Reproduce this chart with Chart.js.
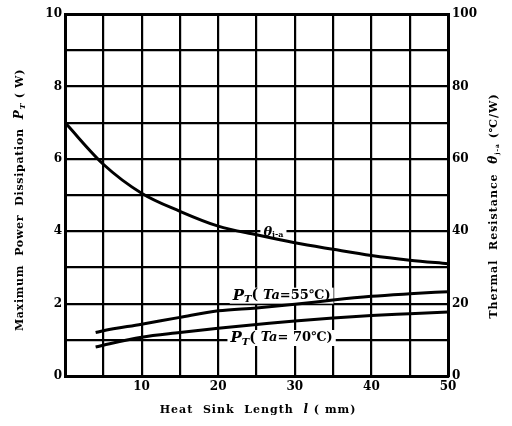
<!DOCTYPE html>
<html>
<head>
<meta charset="utf-8">
<script src="https://cdn.jsdelivr.net/npm/chart.js@4.4.0/dist/chart.umd.min.js"></script>
<style>
  html, body { margin: 0; padding: 0; background: #fff; }
  #wrap { width: 512px; height: 426px; }
</style>
</head>
<body>
<div id="wrap"><canvas id="chart" width="512" height="426"></canvas></div>
<script>
// heat sink length (mm) and the three curves
const lengthTheta = [0, 5, 10, 15, 20, 25, 30, 35, 40, 45, 50];
const thetaJA = [70, 58.5, 50.5, 45.5, 41.4, 39, 36.8, 35, 33.3, 32, 31]; // °C/W, right axis
const lengthPt = [4, 5, 10, 15, 20, 25, 30, 35, 40, 45, 50];
const pt55 = [1.2, 1.25, 1.43, 1.62, 1.8, 1.88, 1.98, 2.1, 2.2, 2.27, 2.33]; // W
const pt70 = [0.8, 0.85, 1.07, 1.2, 1.32, 1.42, 1.52, 1.6, 1.67, 1.72, 1.77]; // W

const xTicks = [10, 20, 30, 40, 50];
const leftTicks = [0, 2, 4, 6, 8, 10];
const rightTicks = [0, 20, 40, 60, 80, 100];

const serif = '"DejaVu Serif", "Liberation Serif", serif';

function pairs(xs, ys) {
  return xs.map((x, i) => ({ x: x, y: ys[i] }));
}

// draw a run of text pieces with different fonts (italic P, subscripts ...)
function segWidth(ctx, segs) {
  let w = 0;
  segs.forEach(s => { ctx.font = s.font; w += ctx.measureText(s.text).width; });
  return w;
}
function drawSegs(ctx, segs, x, y) {
  segs.forEach(s => {
    ctx.font = s.font;
    ctx.fillText(s.text, x, y + (s.dy || 0));
    x += ctx.measureText(s.text).width;
  });
}

const curveLabels = [
  { x: 25.9, y: 3.97, segs: [
    { text: "θ", font: "italic bold 13px " + serif },
    { text: "j-a", font: "bold 8px " + serif, dy: 3 }
  ]},
  { x: 21.9, y: 2.22, segs: [
    { text: "P", font: "italic bold 15px " + serif },
    { text: "T", font: "italic bold 10px " + serif, dy: 4 },
    { text: "( ", font: "bold 14px " + serif },
    { text: "Ta", font: "italic bold 13px " + serif },
    { text: "=55℃)", font: "bold 13px " + serif }
  ]},
  { x: 21.6, y: 1.05, segs: [
    { text: "P", font: "italic bold 15px " + serif },
    { text: "T", font: "italic bold 10px " + serif, dy: 4 },
    { text: "( ", font: "bold 14px " + serif },
    { text: "Ta", font: "italic bold 13px " + serif },
    { text: "= 70℃)", font: "bold 13px " + serif }
  ]}
];

const labelPlugin = {
  id: "curveLabels",
  beforeDatasetsDraw(chart) {
    const ctx = chart.ctx;
    const sx = chart.scales.x, sy = chart.scales.y;
    ctx.save();
    ctx.fillStyle = "#fff";
    curveLabels.forEach(l => {
      const px = sx.getPixelForValue(l.x), py = sy.getPixelForValue(l.y);
      const w = segWidth(ctx, l.segs);
      ctx.fillRect(px - 3, py - 8, w + 6, 16);
    });
    ctx.restore();
  },
  afterDatasetsDraw(chart) {
    const ctx = chart.ctx;
    const sx = chart.scales.x, sy = chart.scales.y;
    ctx.save();
    ctx.fillStyle = "#000";
    ctx.textBaseline = "middle";
    curveLabels.forEach(l => {
      drawSegs(ctx, l.segs, sx.getPixelForValue(l.x), sy.getPixelForValue(l.y));
    });
    ctx.restore();
  }
};

const titlePlugin = {
  id: "axisTitles",
  afterDraw(chart) {
    const ctx = chart.ctx;
    const f = "bold 11px " + serif;
    const fi = "italic bold 12px " + serif;
    const fs = "italic bold 8px " + serif;
    ctx.save();
    ctx.fillStyle = "#000";
    ctx.textBaseline = "middle";
    ctx.letterSpacing = "0.7px";

    const left = [
      { text: "Maximum  Power  Dissipation  ", font: f },
      { text: "P", font: fi },
      { text: "T", font: fs, dy: 3 },
      { text: " ( W)", font: f }
    ];
    ctx.save();
    ctx.translate(20, 200);
    ctx.rotate(-Math.PI / 2);
    drawSegs(ctx, left, -segWidth(ctx, left) / 2, 0);
    ctx.restore();

    ctx.letterSpacing = "1px";
    const right = [
      { text: "Thermal  Resistance  ", font: f },
      { text: "θ", font: fi },
      { text: "j-a", font: "bold 6px " + serif, dy: 3 },
      { text: " (℃/W)", font: f }
    ];
    ctx.save();
    ctx.translate(494, 206);
    ctx.rotate(-Math.PI / 2);
    drawSegs(ctx, right, -segWidth(ctx, right) / 2, 0);
    ctx.restore();

    const bottom = [
      { text: "Heat  Sink  Length  ", font: f },
      { text: "l", font: fi },
      { text: " ( mm)", font: f }
    ];
    drawSegs(ctx, bottom, 258 - segWidth(ctx, bottom) / 2, 410);
    ctx.restore();
  }
};

const tickFont = { family: serif, size: 12, weight: "bold" };

new Chart(document.getElementById("chart"), {
  type: "line",
  data: {
    datasets: [
      {
        label: "θj-a",
        data: pairs(lengthTheta, thetaJA),
        yAxisID: "y2",
        borderColor: "#000",
        borderWidth: 3,
        pointRadius: 0,
        cubicInterpolationMode: "monotone",
        fill: false
      },
      {
        label: "PT (Ta=55°C)",
        data: pairs(lengthPt, pt55),
        yAxisID: "y",
        borderColor: "#000",
        borderWidth: 3,
        pointRadius: 0,
        cubicInterpolationMode: "monotone",
        fill: false
      },
      {
        label: "PT (Ta=70°C)",
        data: pairs(lengthPt, pt70),
        yAxisID: "y",
        borderColor: "#000",
        borderWidth: 3,
        pointRadius: 0,
        cubicInterpolationMode: "monotone",
        fill: false
      }
    ]
  },
  options: {
    responsive: false,
    animation: false,
    devicePixelRatio: 1,
    layout: { padding: { top: 14, left: 0, right: 0, bottom: 0 } },
    plugins: {
      legend: { display: false },
      tooltip: { enabled: false }
    },
    scales: {
      x: {
        type: "linear",
        min: 0,
        max: 50,
        afterFit: s => { s.height = 50; },
        ticks: {
          stepSize: 5,
          color: "#000",
          font: tickFont,
          padding: 4,
          maxRotation: 0,
          autoSkip: false,
          callback: v => (xTicks.includes(v) ? String(v) : "")
        },
        grid: { color: "#000", lineWidth: 2.2, drawTicks: false },
        border: { color: "#000", width: 3 }
      },
      y: {
        position: "left",
        min: 0,
        max: 10,
        afterFit: s => { s.width = 65; },
        ticks: {
          stepSize: 1,
          color: "#000",
          font: tickFont,
          padding: 3,
          autoSkip: false,
          callback: v => (leftTicks.includes(v) ? String(v) : "")
        },
        grid: {
          color: "#000",
          lineWidth: c => (c.tick && c.tick.value === 10 ? 3 : 2.2),
          drawTicks: false
        },
        border: { color: "#000", width: 3 }
      },
      y2: {
        position: "right",
        min: 0,
        max: 100,
        afterFit: s => { s.width = 64; },
        ticks: {
          stepSize: 20,
          color: "#000",
          font: tickFont,
          padding: 4,
          autoSkip: false,
          callback: v => (rightTicks.includes(v) ? String(v) : "")
        },
        grid: { display: false, drawTicks: false },
        border: { color: "#000", width: 3 }
      }
    }
  },
  plugins: [labelPlugin, titlePlugin]
});
</script>
</body>
</html>
